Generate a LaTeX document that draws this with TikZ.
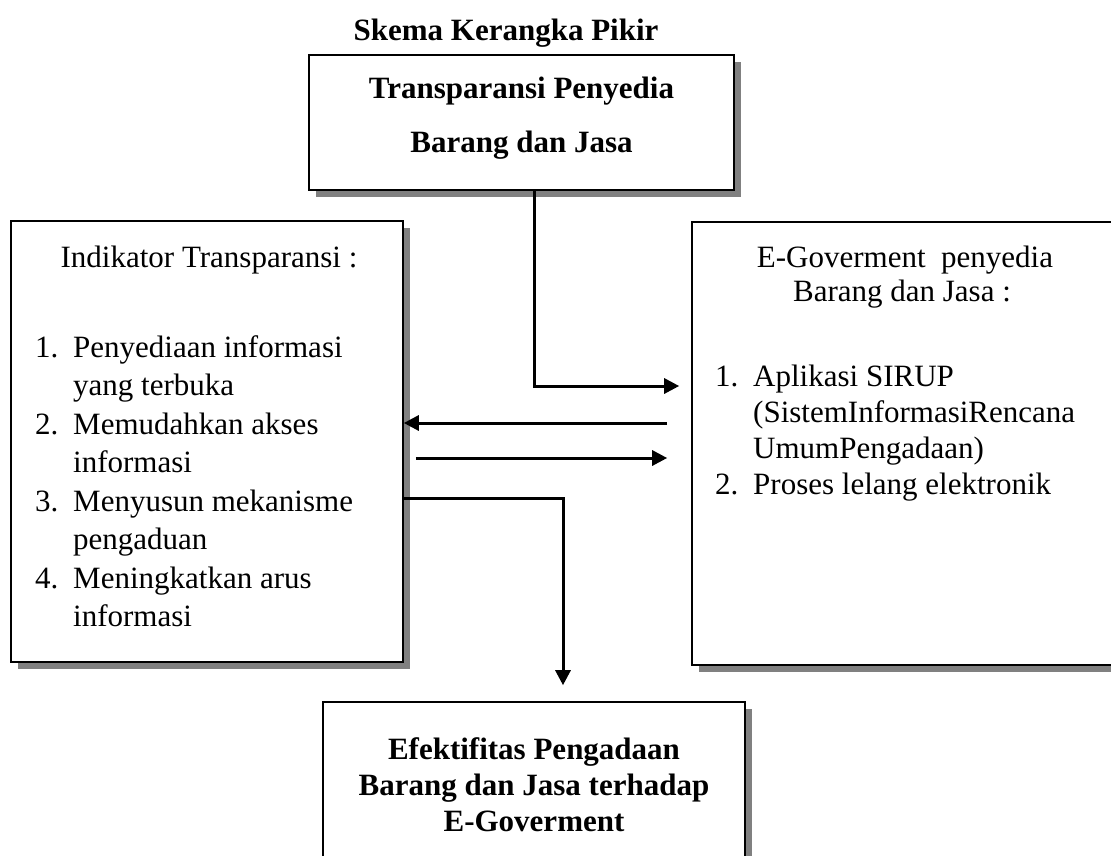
\documentclass[tikz,border=0pt]{standalone}
\usepackage{fontspec}
\setmainfont{Liberation Serif}
\usetikzlibrary{shadows,arrows.meta,calc}
\definecolor{shadowgray}{RGB}{128,128,128}
\begin{document}
\begin{tikzpicture}[x=1pt,y=-1pt,
  box/.style={draw=black,line width=1.6pt,fill=white,inner sep=0pt,
    drop shadow={shadow xshift=7pt,shadow yshift=-7pt,fill=shadowgray,opacity=1}},
  txt/.style={inner sep=0pt,font=\fontsize{31}{38}\selectfont},
  btxt/.style={inner sep=0pt,font=\fontsize{31}{38}\selectfont\bfseries},
  arr/.style={line width=3pt,-{Triangle[length=15pt,width=15pt]}}]
\useasboundingbox (0,0) rectangle (1111,855);
% title
\node[btxt,anchor=base] (title) at (506,40) {Skema Kerangka Pikir};
% boxes
\node[box,minimum width=425pt,minimum height=135pt] (top) at (521.5,122.5) {};
\node[box,minimum width=392pt,minimum height=441pt] (lbox) at (207,441.5) {};
\node[box,minimum width=428pt,minimum height=443pt] (rbox) at (906,443.5) {};
\node[box,minimum width=422pt,minimum height=168pt] (bot) at (534,786) {};
% top box text
\node[btxt,anchor=base] (t1) at (521.5,98) {Transparansi Penyedia};
\node[btxt,anchor=base] (t2) at (521.5,152) {Barang dan Jasa};
% left box text
\node[txt,anchor=base] (l0) at (209,267) {Indikator Transparansi :};
\node[txt,anchor=base west] (ln1) at (35,357) {1.};
\node[txt,anchor=base west] (l1) at (73,357) {Penyediaan informasi};
\node[txt,anchor=base west] (l1b) at (73,395.5) {yang terbuka};
\node[txt,anchor=base west] (ln2) at (35,434) {2.};
\node[txt,anchor=base west] (l2) at (73,434) {Memudahkan akses};
\node[txt,anchor=base west] (l2b) at (73,472.5) {informasi};
\node[txt,anchor=base west] (ln3) at (35,511) {3.};
\node[txt,anchor=base west] (l3) at (73,511) {Menyusun mekanisme};
\node[txt,anchor=base west] (l3b) at (73,549.5) {pengaduan};
\node[txt,anchor=base west] (ln4) at (35,588) {4.};
\node[txt,anchor=base west] (l4) at (73,588) {Meningkatkan arus};
\node[txt,anchor=base west] (l4b) at (73,626.5) {informasi};
% right box text
\node[txt,anchor=base] (r0) at (905,267) {E-Goverment\ \ penyedia};
\node[txt,anchor=base] (r0b) at (902,301) {Barang dan Jasa :};
\node[txt,anchor=base west] (rn1) at (715,386) {1.};
\node[txt,anchor=base west] (r1) at (753,386) {Aplikasi SIRUP};
\node[txt,anchor=base west] (r1b) at (753,422) {(SistemInformasiRencana};
\node[txt,anchor=base west] (r1c) at (753,458) {UmumPengadaan)};
\node[txt,anchor=base west] (rn2) at (715,494) {2.};
\node[txt,anchor=base west] (r2) at (753,494) {Proses lelang elektronik};
% bottom box text
\node[btxt,anchor=base] (b1) at (534,759) {Efektifitas Pengadaan};
\node[btxt,anchor=base] (b2) at (534,795) {Barang dan Jasa terhadap};
\node[btxt,anchor=base] (b3) at (534,831) {E-Goverment};
% connectors
\coordinate (a1bend) at (534,386);
\draw[arr] (top.south -| a1bend) -- (a1bend) -- ([xshift=-12pt]rbox.west |- a1bend);
\coordinate (a2y) at (0,423);
\draw[arr] ([xshift=-24pt]rbox.west |- a2y) -- (lbox.east |- a2y);
\coordinate (a3y) at (0,458);
\draw[arr] ([xshift=12pt]lbox.east |- a3y) -- ([xshift=-24pt]rbox.west |- a3y);
\coordinate (a4bend) at (563,498);
\draw[arr] (lbox.east |- a4bend) -- (a4bend) -- ([yshift=16pt]bot.north -| a4bend);
\end{tikzpicture}
\end{document}
